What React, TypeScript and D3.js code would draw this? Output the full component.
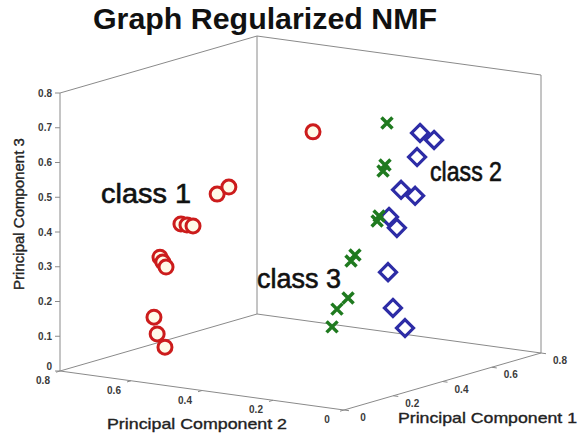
import React from 'react';
import * as d3 from 'd3';

const W = 579;
const H = 436;

// each point is [PC1, PC2, PC3]
const class1Points = [
  [0.05, 0.122, 0.773],
  [0.05, 0.392, 0.556],
  [0.05, 0.359, 0.581],
  [0.05, 0.494, 0.456],
  [0.05, 0.477, 0.455],
  [0.05, 0.46, 0.455],
  [0.05, 0.553, 0.352],
  [0.05, 0.545, 0.339],
  [0.05, 0.536, 0.326],
  [0.05, 0.57, 0.177],
  [0.05, 0.561, 0.13],
  [0.05, 0.539, 0.095],
];

const class2Points = [
  [0.352, 0.03, 0.721],
  [0.409, 0.03, 0.689],
  [0.34, 0.03, 0.654],
  [0.275, 0.03, 0.573],
  [0.332, 0.03, 0.544],
  [0.226, 0.03, 0.505],
  [0.258, 0.03, 0.467],
  [0.222, 0.03, 0.347],
  [0.242, 0.03, 0.24],
  [0.291, 0.03, 0.172],
];

const class3Points = [
  [0.261, 0.06, 0.764],
  [0.253, 0.06, 0.645],
  [0.245, 0.06, 0.629],
  [0.229, 0.06, 0.503],
  [0.221, 0.06, 0.49],
  [0.131, 0.06, 0.411],
  [0.115, 0.06, 0.397],
  [0.103, 0.06, 0.293],
  [0.058, 0.06, 0.27],
  [0.038, 0.06, 0.223],
];

const pc1Ticks = [0, 0.2, 0.4, 0.6, 0.8];
const pc2Ticks = [0, 0.2, 0.4, 0.6, 0.8];
const pc3Ticks = [0, 0.1, 0.2, 0.3, 0.4, 0.5, 0.6, 0.7, 0.8];

// oblique projection of the 3d box onto the screen
const ox = 344;
const oy = 410;
const pc1X = d3.scaleLinear().domain([0, 0.8]).range([0, 197]);
const pc1Y = d3.scaleLinear().domain([0, 0.8]).range([0, -57]);
const pc2X = d3.scaleLinear().domain([0, 0.8]).range([0, -284]);
const pc2Y = d3.scaleLinear().domain([0, 0.8]).range([0, -39]);
const pc3Y = d3.scaleLinear().domain([0, 0.8]).range([0, -278]);

const project = (a: number, b: number, c: number): [number, number] => [
  ox + pc1X(a) + pc2X(b),
  oy + pc1Y(a) + pc2Y(b) + pc3Y(c),
];

const fmt = (v: number) => (v === 0 ? '0' : String(v));

export default function App() {
  const line = d3.line();
  const edges: [number, number, number][][] = [
    [[0, 0.8, 0], [0, 0.8, 0.8]],
    [[0.8, 0.8, 0], [0.8, 0.8, 0.8]],
    [[0.8, 0, 0], [0.8, 0, 0.8]],
    [[0, 0.8, 0.8], [0.8, 0.8, 0.8]],
    [[0.8, 0.8, 0.8], [0.8, 0, 0.8]],
    [[0, 0.8, 0], [0.8, 0.8, 0]],
    [[0.8, 0.8, 0], [0.8, 0, 0]],
    [[0, 0.8, 0], [0, 0, 0]],
    [[0, 0, 0], [0.8, 0, 0]],
  ];

  const tickFont = {
    fontFamily: 'Liberation Sans, Arial, sans-serif',
    fontSize: 10,
    fontWeight: 700,
    fill: '#3a3a3a',
  } as const;

  const diamond = (r: number) => `M0,${-r}L${r},0L0,${r}L${-r},0Z`;

  return (
    <svg
      width={W}
      height={H}
      style={{ position: 'fixed', left: 0, top: 0, background: '#fff' }}
    >
      <rect width={W} height={H} fill="#fff" />
      <g stroke="#8a8a8a" strokeWidth={1} fill="none">
        {edges.map((e, i) => (
          <path key={i} d={line(e.map((p) => project(p[0], p[1], p[2])))!} />
        ))}
      </g>

      {/* PC3 ticks on the left upright */}
      {pc3Ticks.map((t) => {
        const [x, y] = project(0, 0.8, t);
        return (
          <g key={'z' + t}>
            <line x1={x - 5} x2={x} y1={y} y2={y} stroke="#8a8a8a" />
            <text x={x - 8} y={y + (t === 0 ? -1 : 3.5)} textAnchor="end" {...tickFont}>
              {fmt(t)}
            </text>
          </g>
        );
      })}

      {/* PC2 ticks along front-left edge */}
      {pc2Ticks.map((t) => {
        const [x, y] = project(0, t, 0);
        return (
          <g key={'b' + t}>
            <line x1={x} x2={x - 4} y1={y} y2={y + 1.2} stroke="#8a8a8a" />
            <text x={x - 17} y={y + 13} textAnchor="middle" {...tickFont}>
              {fmt(t)}
            </text>
          </g>
        );
      })}

      {/* PC1 ticks along front-right edge */}
      {pc1Ticks.map((t) => {
        const [x, y] = project(t, 0, 0);
        return (
          <g key={'a' + t}>
            <line x1={x} x2={x + 5} y1={y} y2={y + 0.7} stroke="#8a8a8a" />
            <text x={x + 19} y={y + 11} textAnchor="middle" {...tickFont}>
              {fmt(t)}
            </text>
          </g>
        );
      })}

      {/* class 1 : circles */}
      <g stroke="#cc1c1c" strokeWidth={3} fill="#fffbe8">
        {class1Points.map((p, i) => {
          const [x, y] = project(p[0], p[1], p[2]);
          return <circle key={i} cx={x} cy={y} r={7} />;
        })}
      </g>

      {/* class 2 : diamonds */}
      <g stroke="#2d2ca6" strokeWidth={3.2} fill="none" strokeLinejoin="miter">
        {class2Points.map((p, i) => {
          const [x, y] = project(p[0], p[1], p[2]);
          return <path key={i} transform={`translate(${x},${y})`} d={diamond(8.5)} />;
        })}
      </g>

      {/* class 3 : crosses */}
      <g stroke="#1f7a1f" strokeWidth={3.5} fill="none">
        {class3Points.map((p, i) => {
          const [x, y] = project(p[0], p[1], p[2]);
          return (
            <path
              key={i}
              transform={`translate(${x},${y})`}
              d="M-5.5,-5.5L5.5,5.5M-5.5,5.5L5.5,-5.5"
            />
          );
        })}
      </g>

      <g fontFamily="Liberation Sans, Arial, sans-serif" fill="#111">
        <text x={265} y={29} textAnchor="middle" fontSize={29} fontWeight={700}
          textLength={344} lengthAdjust="spacingAndGlyphs">
          Graph Regularized NMF
        </text>
        <g stroke="#111" strokeWidth={0.6}>
          <text x={101} y={203} fontSize={27} textLength={90} lengthAdjust="spacingAndGlyphs">class 1</text>
          <text x={430} y={181} fontSize={27} textLength={72} lengthAdjust="spacingAndGlyphs">class 2</text>
          <text x={257} y={288} fontSize={27} textLength={84} lengthAdjust="spacingAndGlyphs">class 3</text>
        </g>
      </g>

      <g fontFamily="Liberation Sans, Arial, sans-serif" fill="#222" stroke="#222" strokeWidth={0.35} fontSize={15}>
        <text x={107} y={429} textLength={180} lengthAdjust="spacingAndGlyphs">
          Principal Component 2
        </text>
        <text x={398} y={423} textLength={179} lengthAdjust="spacingAndGlyphs">
          Principal Component 1
        </text>
        <text transform="translate(24,214) rotate(-90)" textAnchor="middle">
          Principal Component 3
        </text>
      </g>
    </svg>
  );
}
